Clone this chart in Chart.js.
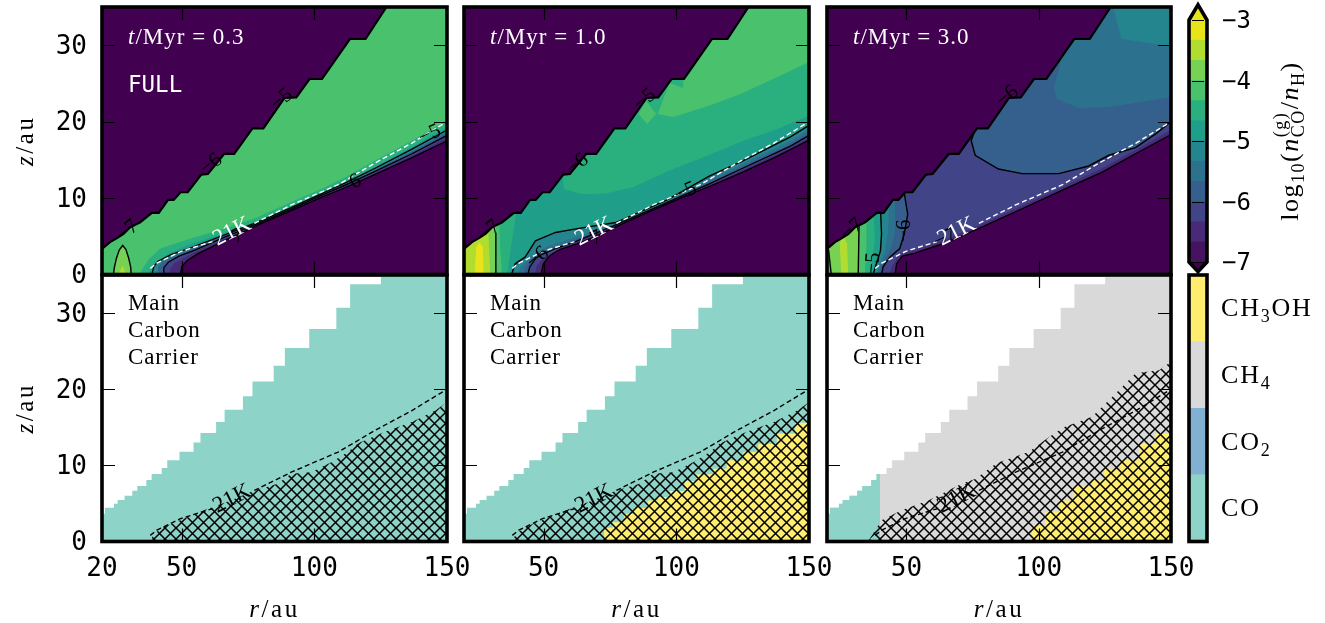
<!DOCTYPE html>
<html>
<head>
<meta charset="utf-8">
<title>CO abundance and main carbon carrier</title>
<script src="https://cdn.jsdelivr.net/npm/chart.js@4/dist/chart.umd.js"></script>
<style>
  body { margin: 0; background: #fff; }
  canvas { position: absolute; left: 0; top: 0; }
</style>
</head>
<body>
<canvas id="c1" width="1325" height="623"></canvas>
<canvas id="c2" width="1325" height="623"></canvas>
<canvas id="c3" width="1325" height="623"></canvas>
<canvas id="c4" width="1325" height="623"></canvas>
<canvas id="c5" width="1325" height="623"></canvas>
<canvas id="c6" width="1325" height="623"></canvas>
<canvas id="c7" width="1325" height="623"></canvas>
<canvas id="c8" width="1325" height="623"></canvas>
<script>
// --- colour bands, lowest level first ---
const cbarEdges = [-7, -6.667, -6.333, -6, -5.667, -5.333, -5, -4.667, -4.333, -4, -3.667, -3.333, -3];
const cbarColors = ['#45135f', '#482a78', '#414487', '#355f8d', '#2c728e', '#25858e', '#1f9e89', '#2ab07f', '#4ac16d', '#77d153', '#b0dd2f', '#e8e419'];
const cbarTicks = [-7, -6, -5, -4, -3];
const cbarTips = [-7.16, -2.75];
const carrierEdges = [0, 1, 2, 3, 4];
const carrierColors = ['#8dd3c7', '#80b1d3', '#d9d9d9', '#ffed6f'];
const PURPLE = '#420050';

const rTicks = [50, 100, 150];
const zTicks = [0, 10, 20, 30];

// --- top panels: surface of the model, (r, z) ---
const ridge = [[20,3.36],[23,4.23],[25.8,4.79],[28.1,5.32],[30.6,6.19],[34.4,6.84],[38.8,8.06],[41.4,8.06],[44.9,9.76],[47,9.76],[49.6,10.76],[52.3,10.76],[57.4,13.07],[59.9,13.16],[66,15.77],[69.8,15.77],[76.7,19.13],[80.8,19.13],[88.7,23.09],[93.2,23.18],[98.2,25.58],[102.9,25.58],[113.4,30.81],[119.3,30.81],[127.2,35]];

// 21 K line, broken around its label
const k21Inner = [[38.2,0.8],[40.7,1.5],[49.6,3],[55,3.6],[61.6,4.3]];
const k21Outer = [[77.4,6.7],[91.3,9.1],[109,11.75],[122.9,14.6],[136.8,17.2],[150,20]];

// --- t = 0.3 contours ---
const t03Band1 = [[34.4,0],[35,0.6],[37.6,2],[42,3.4],[53.4,4.7],[66,6],[78.6,7.5],[91.3,9.5],[102.6,11.2],[111.5,12.7],[122.9,14.9],[136.8,17.5],[150,20.1]];
const t03Band2 = [[37.5,0],[38.5,1],[41,1.8],[46,2.9],[53.4,4],[66,5.4],[78.6,7],[91.3,8.9],[102.6,10.7],[111.5,12.1],[122.9,14.1],[136.8,16.7],[150,19.3]];
const t03Minus5 = [[38.8,0],[39.5,1],[41,1.7],[46,2.6],[53.4,3.5],[66,5.15],[78.6,6.85],[91.3,8.75],[102.6,10.55],[111.5,11.95],[122.9,13.9],[136.8,16.4],[150,18.9]];
const t03Band4 = [[40.8,0],[41.2,1],[43,1.7],[47,2.4],[53.4,3.3],[66,5],[78.6,6.75],[91.3,8.65],[102.6,10.45],[111.5,11.8],[122.9,13.7],[136.8,16.1],[150,18.6]];
const t03Minus6 = [[43,0],[43.3,0.9],[45,1.6],[49,2.4],[55,3.2],[66,4.85],[78.6,6.65],[91.3,8.55],[102.6,10.35],[111.5,11.65],[122.9,13.5],[136.8,15.8],[150,18.2]];
const t03Band6 = [[45.5,0],[45.8,0.8],[47,1.4],[51,2.2],[55,2.95],[66,4.65],[78.6,6.55],[91.3,8.45],[102.6,10.25],[111.5,11.5],[122.9,13.3],[136.8,15.55],[150,17.9]];
const t03Minus7 = [[49.6,0],[50,1],[52,1.8],[56,2.7],[66,4.4],[78.6,6.45],[91.3,8.35],[102.6,10.1],[111.5,11.35],[122.9,13.1],[136.8,15.3],[150,17.5]];
const t03Bubble = [[24.3,0],[24.7,1],[25.5,2.2],[26.5,3.2],[27.8,3.8],[29,3.3],[30,2.2],[30.8,1],[31,0]];
const t03BubbleCore = [[26.2,0],[27.8,1.2],[29,0]];

// --- t = 1.0 contours ---
const t10Minus5 = [[37.9,0],[39.3,1.4],[43.1,2.3],[46.9,4.4],[54.5,5.5],[62.7,6],[77.2,6.8],[96.2,9.7],[112.6,12.9],[125.3,14.9],[143,18],[150,19.5]];
const t10Band1 = [[40.4,0],[41.3,1],[44,1.9],[47,2.9],[52,3.8],[62,4.9],[77,6.65],[96,9.55],[112,12.4],[125,14.5],[143,17.5],[150,19]];
const t10Band2 = [[42.3,0],[43,1],[45,1.9],[48,2.8],[53,3.5],[62,4.6],[77,6.55],[96,9.45],[112,12.1],[125,14.2],[143,17.1],[150,18.6]];
const t10Minus6 = [[44,0],[44.8,1],[47,2.1],[49.2,2.6],[54.5,3.4],[62,4.3],[77,6.45],[96,9.35],[112,11.8],[125,13.9],[143,16.8],[150,18.2]];
const t10Band4 = [[46.7,0],[47.5,1.2],[50,2.1],[54.5,3],[62,4.15],[77,6.35],[96,9.25],[112,11.65],[125,13.65],[143,16.6],[150,17.9]];
const t10Minus7 = [[49,0],[49.9,1.4],[52.4,2.5],[56.2,3.3],[62.5,4],[68.4,4.8],[80,6.7],[91,8.4],[103,10.2],[115,11.9],[125,13.4],[137,15.3],[150,17.6]];
const t10Upper = [[57,12.9],[57.7,11.2],[64.6,10.5],[73.4,10.6],[83.6,11.4],[98.7,13.8],[110.1,15.3],[125.3,17.5],[137.9,19],[150,20.8]];
const t10Top = [[150,27.8],[137.9,25.8],[124,23.6],[112.6,22.1],[102.5,21],[98.7,20.6],[93,21],[97.5,25.1],[102.5,24.4],[103.6,30],[103.6,35],[150,35]];
const t10Diamond = [[85.8,21],[88.6,22.7],[92.4,21],[89,19.7]];
const t10Col1 = [[36.2,0],[38.1,4.4],[39.6,7.9],[40.5,12],[20,12],[20,0]];
const t10Col2 = [[34.3,0],[33.6,3.6],[33.3,6.6],[33.3,12],[20,12],[20,0]];
const t10Col3 = [[32,0],[32,5.5],[32,12],[20,12],[20,0]];
const t10Col4 = [[29.9,0],[29.2,5.3],[29.2,12],[20,12],[20,0]];
const t10Core = [[24,0],[24.6,3.6],[25.9,4.2],[27.1,3.6],[27.4,0]];
const t10Minus4 = [[32,0],[32,5.5]];

// --- t = 3.0 contours ---
const t30Minus7 = [[45.7,0],[46.3,1.4],[48.4,2.4],[53.2,2.8],[65.2,4.2],[78.5,6.2],[93.7,8.6],[110,11.2],[124,13.4],[136.6,15.8],[150,18.3]];
const t30Band1 = [[43.5,0],[44.5,1],[46.5,2.2],[49,3],[53.2,3.2],[65.2,4.6],[78.5,6.6],[93.7,9],[110,11.6],[124,13.9],[136.6,16.3],[150,18.9]];
const t30Minus6 = [[76,19],[74.5,17.5],[76,15.6],[84.8,13.8],[93.7,13.2],[107.6,13.2],[118.9,14.2],[126.5,15.6],[136.6,16.6],[144.2,18.4],[150,20]];
const t30Upper = [[108.2,27.5],[105.7,24.5],[106.9,23],[115.1,21.8],[126.5,21.9],[150,23.2]];
const t30Corner = [[128.2,35],[128.4,34.6],[131.3,30.8],[150,29.9],[150,35]];
const t30Col1 = [[40.6,0],[41.2,1],[43.8,2.3],[47.5,3.4],[49.2,5.3],[50.5,7.9],[49.2,10.6],[49.2,12]];
const t30Col2 = [[39.3,0],[40.6,1.4],[43.8,3.1],[45.7,5.3],[45.7,9.7],[45.7,12]];
const t30Col3 = [[38.7,0],[41.9,3.1],[43.1,5.8],[43.4,8.8],[43.4,12]];
const t30Col4 = [[37.4,0],[40.2,3.1],[40.6,5.3],[40.3,7.9],[40.3,12]];
const t30Col5 = [[36.2,0],[38.1,4.4],[37.8,6.8],[37.8,12]];
const t30Col6 = [[34.3,0],[34.9,3.6],[34.9,6.8],[34.9,12]];
const t30Col7 = [[31.8,0],[32.1,6.2],[32.1,12]];
const t30Core = [[25.4,0],[24.8,4],[26.1,5.3],[27.6,4],[28,0]];
const t30Left = [[21.6,0],[20.6,3.2],[20,3.2],[20,0]];

// --- contour labels: text, r, z, angle in degrees ---
const labels03 = [['−7',29.6,5.7,-40],['−6',61.1,14.4,-40],['−5',87.7,22.9,-40],['−5',143.5,18.3,-25],['−6',113.5,11.8,-25],['−7',69.2,4.7,-25]];
const labels10 = [['−7',29.4,5.7,-40],['−6',62.7,14.4,-40],['−5',88.2,22.9,-40],['−6',47.8,2.2,-40],['−5',103.5,10.8,-25],['−7',67.8,4.4,-25]];
const labels30 = [['−7',29.4,5.9,-40],['−6',88.2,23.3,-40],['−5',37.4,1.4,-85],['−6',49.4,5.75,-90],['−7',64.6,4.7,-25]];

// --- bottom panels: model cells, column edges and column tops ---
const cellEdges = [20,21.1,24.5,25.9,28.5,31.4,33.3,36.7,38.7,42.5,44.6,49.2,54.5,57.1,63,66.2,73.1,76.7,84.7,88.9,98.1,108.3,113.5,125.1,150];
const cellTops = [3.64,4.43,4.96,5.44,6,6.67,7.28,8.07,8.86,9.65,10.66,11.8,13,14.25,15.7,17.3,19.08,21,23.07,25.4,27.9,30.7,33.8,35];
const coEdges30 = [20,21.1,24.5,25.9,28.5,31.4,33.3,36.7,38.7,40];
const coTops30 = [3.64,4.43,4.96,5.44,6,6.67,7.28,8.07,8.86];
const ch3ohEdges10 = [72.8,76,80.4,84.2,89.2,93,97.5,103.1,107.6,113.9,118.9,125.3,130.9,137.9,144.8,150];
const ch3ohTops10 = [1.8,2.54,3.64,4.39,5.39,5.83,6.62,7.94,8.82,9.56,10.66,11.75,12.85,14.17,15.6];
const ch3ohEdges30 = [97.5,102.5,107.6,113.3,120.2,124.6,130.9,137.9,144.2,150];
const ch3ohTops30 = [2.1,3.86,5.39,7.24,8.03,9.56,10.66,12.85,14.17];
// upper limit of the hatched ice region
const hatchEarly = [[38.2,0],[39.5,1],[43.2,1.9],[50.8,3],[58.4,4.1],[68.5,5.4],[77.4,6.7],[86.2,7.6],[91.3,8.9],[98.8,9.1],[106.4,10.4],[112.7,11.75],[116.5,12.9],[126.6,14.4],[136.8,15.7],[145.6,17.2],[150,18.3]];
const hatchLate = [[35.5,0],[40.6,2.8],[48.2,4.1],[58.3,5.4],[70.9,7.6],[76,8.2],[84.2,10.3],[96.2,11.75],[103.8,13.7],[109.5,15],[120.2,16.4],[129,19.4],[136.6,22.1],[145.5,22.5],[150,23.6]];

const SERIF = '"Liberation Serif"';
const MONO = '"DejaVu Sans Mono"';

// --- helpers to turn the lists above into datasets ---
function toPoints(list) {
  return list.map(p => ({ x: p[0], y: p[1] }));
}

function area(list, color) {
  return { data: toPoints(list), polygon: true, backgroundColor: color, showLine: false, pointRadius: 0 };
}

function line(list, color, width, dash) {
  return { data: toPoints(list), showLine: true, fill: false, borderColor: color, borderWidth: width, borderDash: dash || [], pointRadius: 0 };
}

function aboveLeft(curve) {
  return curve.concat([[150, 35], [20, 35], [20, 0]]);
}

function leftOf(curve) {
  return curve.concat([[20, curve[curve.length - 1][1]], [20, 0]]);
}

function stairs(edges, tops) {
  const pts = [[edges[0], 0]];
  tops.forEach((top, i) => {
    pts.push([edges[i], top]);
    pts.push([edges[i + 1], top]);
  });
  pts.push([edges[edges.length - 1], 0]);
  return pts;
}

function makeHatch() {
  const tile = document.createElement('canvas');
  tile.width = 11;
  tile.height = 11;
  const ctx = tile.getContext('2d');
  ctx.strokeStyle = '#000';
  ctx.lineWidth = 1.5;
  ctx.beginPath();
  ctx.moveTo(-1, -1);
  ctx.lineTo(12, 12);
  ctx.moveTo(-1, 12);
  ctx.lineTo(12, -1);
  ctx.stroke();
  return ctx.createPattern(tile, 'repeat');
}

// the scales must not push the plot area away for their tick labels
function noAxisPadding(axis) {
  axis.paddingTop = 0;
  axis.paddingBottom = 0;
  axis.paddingLeft = 0;
  axis.paddingRight = 0;
}

// fills a dataset's points as a closed shape, the points are placed by the scales
const polygonFill = {
  id: 'polygonFill',
  beforeDatasetDraw(chart, args) {
    const dataset = chart.data.datasets[args.index];
    if (!dataset.polygon) return;
    const ctx = chart.ctx;
    ctx.save();
    ctx.beginPath();
    args.meta.data.forEach((pt, i) => {
      if (i === 0) ctx.moveTo(pt.x, pt.y);
      else ctx.lineTo(pt.x, pt.y);
    });
    ctx.closePath();
    ctx.fillStyle = dataset.backgroundColor;
    ctx.fill();
    ctx.restore();
    return false;
  }
};

// text made of several pieces, for the maths labels
function drawRuns(ctx, runs, x, y, spacing) {
  ctx.textAlign = 'left';
  ctx.textBaseline = 'alphabetic';
  ctx.letterSpacing = (spacing || 0) + 'px';
  let pos = x;
  runs.forEach(run => {
    ctx.font = run.font;
    ctx.fillText(run.text, pos, y + (run.dy || 0));
    if (!run.stay) pos += ctx.measureText(run.text).width;
  });
  ctx.letterSpacing = '0px';
  return pos - x;
}

function runsWidth(ctx, runs, spacing) {
  ctx.letterSpacing = (spacing || 0) + 'px';
  let w = 0;
  runs.forEach(run => {
    ctx.font = run.font;
    if (!run.stay) w += ctx.measureText(run.text).width;
  });
  ctx.letterSpacing = '0px';
  return w;
}

function axisTitle(ctx, letter, x, y, rotated) {
  const runs = [
    { text: letter, font: `italic 25px ${SERIF}` },
    { text: '/au', font: `25px ${SERIF}` }
  ];
  const w = runsWidth(ctx, runs, 2.5);
  ctx.save();
  ctx.fillStyle = '#000';
  ctx.translate(x, y);
  if (rotated) ctx.rotate(-Math.PI / 2);
  drawRuns(ctx, runs, -w / 2, 7, 2.5);
  ctx.restore();
}

// vertical tick labels sit 2px lower than Chart.js would put them
function sideTickLabels(ctx, scale, values, x, align, size, format) {
  ctx.fillStyle = '#000';
  ctx.font = `${size}px ${MONO}`;
  ctx.textAlign = align;
  ctx.textBaseline = 'middle';
  values.forEach(v => {
    ctx.fillText(format(v), x, scale.getPixelForValue(v) + 2);
  });
}

function panelDecor(cfg) {
  return {
    id: 'panelDecor',
    afterDatasetsDraw(chart) {
      const ctx = chart.ctx;
      const area = chart.chartArea;
      const xs = chart.scales.x;
      const ys = chart.scales.y;
      ctx.save();

      // contour labels and the 21 K label
      (cfg.labels || []).forEach(l => {
        ctx.save();
        ctx.translate(xs.getPixelForValue(l[1]), ys.getPixelForValue(l[2]));
        ctx.rotate(l[3] * Math.PI / 180);
        ctx.fillStyle = '#000';
        ctx.font = `21px ${SERIF}`;
        ctx.textAlign = 'center';
        ctx.textBaseline = 'middle';
        ctx.fillText(l[0], 0, 0);
        ctx.restore();
      });
      ctx.save();
      ctx.translate(xs.getPixelForValue(69), ys.getPixelForValue(5.6));
      ctx.rotate(-27 * Math.PI / 180);
      ctx.fillStyle = cfg.lineColor;
      ctx.font = `23px ${SERIF}`;
      ctx.textAlign = 'center';
      ctx.textBaseline = 'middle';
      ctx.fillText('21K', 0, 0);
      ctx.restore();

      // inward tick marks on all four sides
      ctx.strokeStyle = '#000';
      ctx.lineWidth = 1.2;
      ctx.beginPath();
      [50, 100].forEach(v => {
        const px = Math.round(xs.getPixelForValue(v)) + 0.5;
        ctx.moveTo(px, area.top);
        ctx.lineTo(px, area.top + 13);
        ctx.moveTo(px, area.bottom);
        ctx.lineTo(px, area.bottom - 13);
      });
      [10, 20, 30].forEach(v => {
        const py = Math.round(ys.getPixelForValue(v)) + 0.5;
        ctx.moveTo(area.left, py);
        ctx.lineTo(area.left + 13, py);
        ctx.moveTo(area.right, py);
        ctx.lineTo(area.right - 13, py);
      });
      ctx.stroke();

      ctx.lineWidth = 3.6;
      ctx.strokeRect(area.left, area.top, area.right - area.left, area.bottom - area.top);

      // texts in the panel corner
      ctx.fillStyle = cfg.textColor;
      if (cfg.time) {
        drawRuns(ctx, [
          { text: 't', font: `italic 23px ${SERIF}` },
          { text: '/Myr = ' + cfg.time, font: `23px ${SERIF}` }
        ], area.left + 26, 44, 1);
      }
      if (cfg.tag) {
        ctx.font = `22.5px ${MONO}`;
        ctx.textAlign = 'left';
        ctx.textBaseline = 'alphabetic';
        ctx.fillText(cfg.tag, area.left + 26, 92);
      }
      (cfg.caption || []).forEach((text, i) => {
        drawRuns(ctx, [{ text: text, font: `23px ${SERIF}` }], area.left + 26, area.top + 35 + i * 27, 0.8);
      });
      if (cfg.showX) axisTitle(ctx, 'r', (area.left + area.right) / 2, 610, false);
      if (cfg.showY) {
        axisTitle(ctx, 'z', 26, (area.top + area.bottom) / 2, true);
        sideTickLabels(ctx, ys, zTicks, area.left - 15, 'right', 26, v => String(v));
      }
      ctx.restore();
    }
  };
}

function createPanel(cfg) {
  const datasets = cfg.datasets;
  datasets.forEach((d, i) => { d.order = datasets.length - i; });
  const xTickValues = cfg.showY ? [20].concat(rTicks) : rTicks;
  return new Chart(document.getElementById(cfg.id), {
    type: 'scatter',
    data: { datasets: datasets },
    options: {
      responsive: false,
      animation: false,
      events: [],
      layout: {
        padding: {
          left: cfg.left,
          right: 1325 - cfg.right,
          top: cfg.top,
          bottom: 623 - cfg.bottom - (cfg.showX ? 40 : 0)
        }
      },
      plugins: { legend: { display: false }, tooltip: { enabled: false } },
      scales: {
        x: {
          type: 'linear',
          min: 20,
          max: 150,
          display: cfg.showX,
          grid: { display: false, drawTicks: false },
          border: { display: false },
          afterFit: axis => {
            axis.height = cfg.showX ? 40 : 0;
            noAxisPadding(axis);
          },
          afterBuildTicks: axis => { axis.ticks = xTickValues.map(v => ({ value: v })); },
          ticks: {
            autoSkip: false,
            maxRotation: 0,
            padding: 12,
            color: '#000',
            font: { family: MONO, size: 26 },
            callback: v => String(v)
          }
        },
        y: {
          type: 'linear',
          min: 0,
          max: 35,
          display: false
        }
      }
    },
    plugins: [polygonFill, panelDecor(cfg)]
  });
}

const TOP = { top: 7, bottom: 274.5 };
const BOTTOM = { top: 275, bottom: 541.5 };
const COLUMNS = [{ left: 102, right: 447 }, { left: 464, right: 809 }, { left: 827, right: 1171 }];
const WHOLE = [[20, 0], [150, 0], [150, 35], [20, 35]];
const c = cbarColors;

function surfaceSets() {
  return [
    area(ridge.concat([[20, 35]]), PURPLE),
    line(ridge, '#000', 2.2)
  ];
}

function k21Sets(color) {
  return [line(k21Inner, color, 1.4, [5, 3]), line(k21Outer, color, 1.4, [5, 3])];
}

// --- top row ---
createPanel(Object.assign({}, TOP, COLUMNS[0], {
  id: 'c1', showY: true, showX: false, time: '0.3', tag: 'FULL', textColor: '#fff', lineColor: '#fff', labels: labels03,
  datasets: [
    area(WHOLE, PURPLE),
    area(aboveLeft(t03Minus7), c[1]),
    area(aboveLeft(t03Band6), c[2]),
    area(aboveLeft(t03Minus6), c[3]),
    area(aboveLeft(t03Band4), c[5]),
    area(aboveLeft(t03Minus5), c[6]),
    area(aboveLeft(t03Band2), c[7]),
    area(aboveLeft(t03Band1), c[8]),
    area(t03Bubble, c[9]),
    area(t03BubbleCore, c[10]),
    line(t03Bubble, '#000', 1.4),
    line(t03Minus5, '#000', 1.3),
    line(t03Minus6, '#000', 1.3),
    line(t03Minus7, '#000', 1.3),
    ...k21Sets('#fff'),
    ...surfaceSets()
  ]
}));

createPanel(Object.assign({}, TOP, COLUMNS[1], {
  id: 'c2', showY: false, showX: false, time: '1.0', textColor: '#fff', lineColor: '#fff', labels: labels10,
  datasets: [
    area(WHOLE, PURPLE),
    area(aboveLeft(t10Minus7), c[1]),
    area(aboveLeft(t10Band4), c[2]),
    area(aboveLeft(t10Minus6), c[3]),
    area(aboveLeft(t10Band2), c[4]),
    area(aboveLeft(t10Band1), c[5]),
    area(aboveLeft(t10Minus5), c[6]),
    area(t10Upper.concat([[150, 35], [57, 35]]), c[7]),
    area(t10Top, c[8]),
    area(t10Diamond, c[8]),
    area(t10Col1, c[7]),
    area(t10Col2, c[8]),
    area(t10Col3, c[9]),
    area(t10Col4, c[10]),
    area(t10Core, c[11]),
    line(t10Minus4, '#000', 1.4),
    line(t10Minus5, '#000', 1.4),
    line(t10Minus6, '#000', 1.3),
    line(t10Minus7, '#000', 1.3),
    ...k21Sets('#fff'),
    ...surfaceSets()
  ]
}));

createPanel(Object.assign({}, TOP, COLUMNS[2], {
  id: 'c3', showY: false, showX: false, time: '3.0', textColor: '#fff', lineColor: '#fff', labels: labels30,
  datasets: [
    area(WHOLE, PURPLE),
    area(aboveLeft(t30Minus7), c[1]),
    area(aboveLeft(t30Band1), c[2]),
    area(t30Minus6.concat([[150, 35], [76, 35]]), c[3]),
    area(t30Upper.concat([[150, 35], [108.2, 35]]), c[4]),
    area(t30Corner, c[5]),
    area(leftOf(t30Col1), c[3]),
    area(leftOf(t30Col2), c[4]),
    area(leftOf(t30Col3), c[5]),
    area(leftOf(t30Col4), c[6]),
    area(leftOf(t30Col5), c[7]),
    area(leftOf(t30Col6), c[8]),
    area(leftOf(t30Col7), c[9]),
    area(t30Core, c[10]),
    area(t30Left, c[8]),
    line(t30Col1, '#000', 1.4),
    line(t30Col4, '#000', 1.4),
    line(t30Col7, '#000', 1.4),
    line(t30Left.slice(0, 2), '#000', 1.4),
    line(t30Minus6, '#000', 1.4),
    line(t30Minus7, '#000', 1.3),
    ...k21Sets('#fff'),
    ...surfaceSets()
  ]
}));

// --- bottom row ---
const hatch = makeHatch();
const co = carrierColors[0];
const ch4 = carrierColors[2];
const ch3oh = carrierColors[3];
const CAPTION = ['Main', 'Carbon', 'Carrier'];

createPanel(Object.assign({}, BOTTOM, COLUMNS[0], {
  id: 'c4', showY: true, showX: true, textColor: '#000', lineColor: '#000', caption: CAPTION,
  datasets: [
    area(stairs(cellEdges, cellTops), co),
    area(hatchEarly.concat([[150, 0]]), hatch),
    ...k21Sets('#000')
  ]
}));

createPanel(Object.assign({}, BOTTOM, COLUMNS[1], {
  id: 'c5', showY: false, showX: true, textColor: '#000', lineColor: '#000', caption: CAPTION,
  datasets: [
    area(stairs(cellEdges, cellTops), co),
    area(stairs(ch3ohEdges10, ch3ohTops10), ch3oh),
    area(hatchEarly.concat([[150, 0]]), hatch),
    ...k21Sets('#000')
  ]
}));

createPanel(Object.assign({}, BOTTOM, COLUMNS[2], {
  id: 'c6', showY: false, showX: true, textColor: '#000', lineColor: '#000', caption: CAPTION,
  datasets: [
    area(stairs(cellEdges, cellTops), ch4),
    area(stairs(coEdges30, coTops30), co),
    area(stairs(ch3ohEdges30, ch3ohTops30), ch3oh),
    area(hatchLate.concat([[150, 0]]), hatch),
    ...k21Sets('#000')
  ]
}));

// --- colour bars ---
const abundanceBar = {
  id: 'abundanceBar',
  afterDatasetsDraw(chart) {
    const ctx = chart.ctx;
    const a = chart.chartArea;
    const ys = chart.scales.y;
    const tipLow = ys.getPixelForValue(cbarTips[0]);
    const tipHigh = ys.getPixelForValue(cbarTips[1]);
    const mid = (a.left + a.right) / 2;
    ctx.save();
    ctx.fillStyle = c[11];
    ctx.beginPath();
    ctx.moveTo(a.left, a.top);
    ctx.lineTo(mid, tipHigh);
    ctx.lineTo(a.right, a.top);
    ctx.closePath();
    ctx.fill();
    ctx.fillStyle = PURPLE;
    ctx.beginPath();
    ctx.moveTo(a.left, a.bottom);
    ctx.lineTo(mid, tipLow);
    ctx.lineTo(a.right, a.bottom);
    ctx.closePath();
    ctx.fill();
    ctx.strokeStyle = '#000';
    ctx.lineWidth = 1;
    ctx.beginPath();
    cbarTicks.forEach(v => {
      const py = Math.round(ys.getPixelForValue(v)) + 0.5;
      ctx.moveTo(a.left + 3, py);
      ctx.lineTo(a.right - 3, py);
    });
    ctx.stroke();
    ctx.lineWidth = 3.6;
    ctx.lineJoin = 'miter';
    ctx.beginPath();
    ctx.moveTo(a.left, a.top);
    ctx.lineTo(mid, tipHigh);
    ctx.lineTo(a.right, a.top);
    ctx.lineTo(a.right, a.bottom);
    ctx.lineTo(mid, tipLow);
    ctx.lineTo(a.left, a.bottom);
    ctx.closePath();
    ctx.stroke();

    sideTickLabels(ctx, ys, cbarTicks, a.right + 15, 'left', 24, v => '−' + Math.abs(v));

    // rotated title of the bar
    const big = `26px ${SERIF}`;
    const ital = `italic 26px ${SERIF}`;
    const small = `18px ${SERIF}`;
    const runs = [
      { text: 'log', font: big },
      { text: '10', font: small, dy: 6 },
      { text: '(', font: big },
      { text: 'n', font: ital },
      { text: '(g)', font: small, dy: -12, stay: true },
      { text: 'CO', font: small, dy: 6 },
      { text: '/', font: big },
      { text: 'n', font: ital },
      { text: 'H', font: small, dy: 6 },
      { text: ')', font: big }
    ];
    const w = runsWidth(ctx, runs, 1.5);
    ctx.fillStyle = '#000';
    ctx.translate(1298, 141);
    ctx.rotate(-Math.PI / 2);
    drawRuns(ctx, runs, -w / 2, 0, 1.5);
    ctx.restore();
  }
};

new Chart(document.getElementById('c7'), {
  type: 'bar',
  data: {
    labels: [''],
    datasets: cbarColors.map((color, i) => ({
      data: [[cbarEdges[i], cbarEdges[i + 1]]],
      backgroundColor: color,
      barPercentage: 1,
      categoryPercentage: 1,
      grouped: false
    }))
  },
  options: {
    responsive: false,
    animation: false,
    events: [],
    layout: { padding: { left: 1189, right: 1325 - 1207, top: 20, bottom: 623 - 262 } },
    plugins: { legend: { display: false }, tooltip: { enabled: false } },
    scales: {
      x: { display: false },
      y: { display: false, min: -7, max: -3 }
    }
  },
  plugins: [abundanceBar]
});

const carrierBar = {
  id: 'carrierBar',
  afterDatasetsDraw(chart) {
    const ctx = chart.ctx;
    const a = chart.chartArea;
    const ys = chart.scales.y;
    const big = `26px ${SERIF}`;
    const small = `18px ${SERIF}`;
    const names = [
      [{ text: 'CO', font: big }],
      [{ text: 'CO', font: big }, { text: '2', font: small, dy: 6 }],
      [{ text: 'CH', font: big }, { text: '4', font: small, dy: 6 }],
      [{ text: 'CH', font: big }, { text: '3', font: small, dy: 6 }, { text: 'OH', font: big }]
    ];
    ctx.save();
    ctx.strokeStyle = '#000';
    ctx.lineWidth = 3.6;
    ctx.strokeRect(a.left, a.top, a.right - a.left, a.bottom - a.top);
    ctx.fillStyle = '#000';
    names.forEach((runs, i) => {
      const py = ys.getPixelForValue(i + 0.5);
      drawRuns(ctx, runs, 1221, py + 8, 1.8);
    });
    ctx.restore();
  }
};

new Chart(document.getElementById('c8'), {
  type: 'bar',
  data: {
    labels: [''],
    datasets: carrierColors.map((color, i) => ({
      data: [[carrierEdges[i], carrierEdges[i + 1]]],
      backgroundColor: color,
      barPercentage: 1,
      categoryPercentage: 1,
      grouped: false
    }))
  },
  options: {
    responsive: false,
    animation: false,
    events: [],
    layout: { padding: { left: 1189, right: 1325 - 1207, top: 275, bottom: 623 - 541.5 } },
    plugins: { legend: { display: false }, tooltip: { enabled: false } },
    scales: {
      x: { display: false },
      y: { display: false, min: 0, max: 4 }
    }
  },
  plugins: [carrierBar]
});
</script>
</body>
</html>
